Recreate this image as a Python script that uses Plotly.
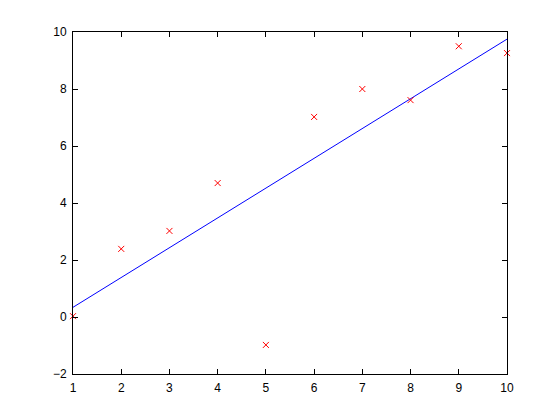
import plotly.graph_objects as go

x_pts = [1, 2, 3, 4, 5, 6, 7, 8, 9, 10]
y_pts = [0.03, 2.39, 3.02, 4.7, -0.98, 7.02, 8.0, 7.61, 9.5, 9.26]
x_fit = [1, 10]
y_fit = [0.34, 9.75]
x_ticks = [1, 2, 3, 4, 5, 6, 7, 8, 9, 10]
y_ticks = [-2, 0, 2, 4, 6, 8, 10]

fig = go.Figure()
fig.add_trace(go.Scatter(x=x_fit, y=y_fit, mode="lines",
                         line=dict(color="#0000ff", width=1), cliponaxis=False))
fig.add_trace(go.Scatter(x=x_pts, y=y_pts, mode="markers",
                         marker=dict(symbol="x-thin", size=6,
                                     line=dict(color="#ff0000", width=1)),
                         cliponaxis=False))

axis_common = dict(showline=True, linecolor="black", linewidth=1, mirror="ticks",
                   ticks="inside", ticklen=5, tickcolor="black", tickwidth=1,
                   showgrid=False, zeroline=False,
                   tickfont=dict(family="Liberation Sans, Arial, sans-serif", size=12, color="black"))

fig.update_layout(
    width=560, height=420,
    margin=dict(l=65, r=61, t=24, b=54),
    paper_bgcolor="white", plot_bgcolor="white",
    showlegend=False,
    xaxis=dict(range=[1, 10], tickvals=x_ticks, ticklabelstandoff=3, **axis_common),
    yaxis=dict(range=[-2, 10], tickvals=y_ticks, ticklabelstandoff=3, **axis_common),
)

fig.write_html("out.html")
